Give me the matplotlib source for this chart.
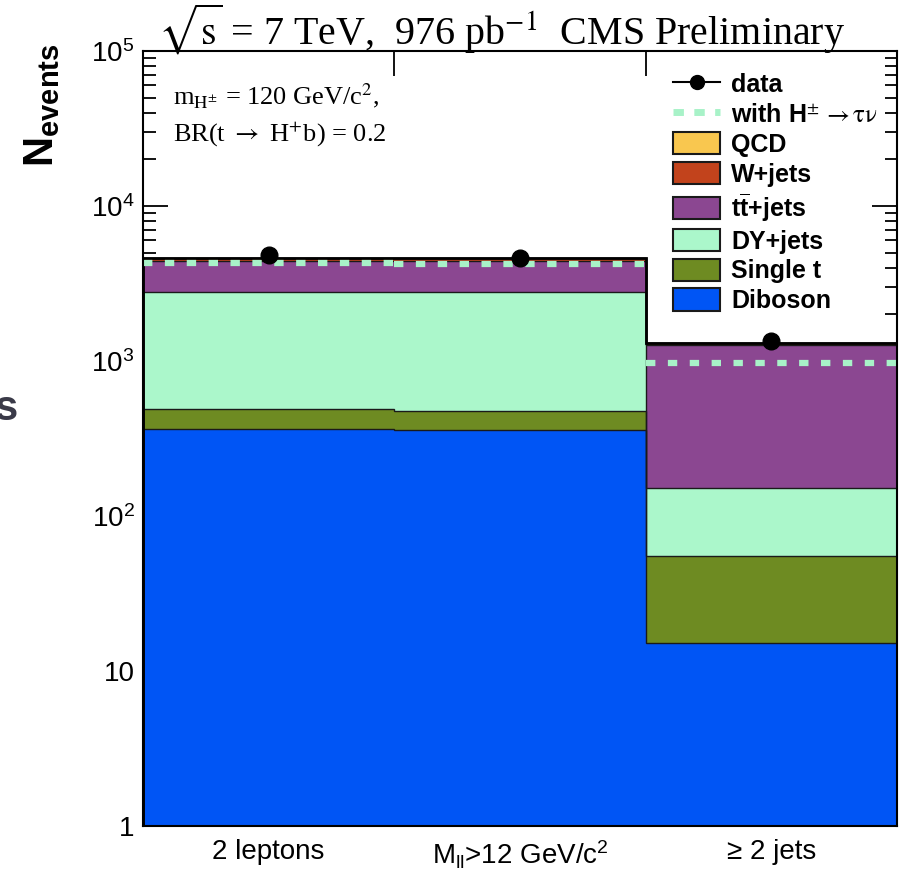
import numpy as np
import matplotlib
matplotlib.use("Agg")
import matplotlib.pyplot as plt
from matplotlib.patches import Patch
from matplotlib.lines import Line2D
from matplotlib.ticker import LogLocator, NullFormatter

plt.rcParams['font.family'] = ['Liberation Sans', 'DejaVu Sans']
plt.rcParams['mathtext.fontset'] = 'custom'
plt.rcParams['mathtext.rm'] = 'Liberation Sans'
plt.rcParams['mathtext.it'] = 'Liberation Sans:italic'
plt.rcParams['mathtext.bf'] = 'Liberation Sans:bold'

# ---- data ----
categories = ["2 leptons", r"M$_{\mathregular{ll}}$>12 GeV/c$^{\mathregular{2}}$", "\u2265 2 jets"]
diboson = [365, 358, 15.2]
single_t = [123, 120, 40.3]
dy_jets = [2312, 2302, 96.5]
ttbar_jets = [1640, 1620, 1118]
w_jets = [200, 200, 30]
qcd = [10, 10, 12]
data = [4800, 4650, 1350]
with_hplus = [4260, 4220, 966]

series = [
    ("Diboson", diboson, "#0055F5"),
    ("Single t", single_t, "#6E8B22"),
    ("DY+jets", dy_jets, "#ABF7CB"),
    (r"t$\overline{\mathbf{t}}$+jets", ttbar_jets, "#8B4791"),
    ("W+jets", w_jets, "#C2431C"),
    ("QCD", qcd, "#F9C74F"),
]

fig = plt.figure(figsize=(8.99, 8.71), dpi=100)
ax = fig.add_axes([0.159, 0.0517, 0.839, 0.8898])

x = np.arange(len(categories))
edges = np.arange(len(categories) + 1)
bottom = np.full(len(categories), 1e-3)
for name, vals, col in series:
    vals = np.array(vals, dtype=float)
    top = bottom + vals
    ax.stairs(top, edges, baseline=bottom, fill=True, color=col, zorder=2)
    ax.stairs(top, edges, color='#1a1a1a', linewidth=1.0, zorder=2.5)
    bottom = top
total = bottom

# total outline
ax.stairs(total, edges, color='black', linewidth=2.0, zorder=3)

# signal dashed line
for i in range(len(categories)):
    ax.plot([i, i + 1], [with_hplus[i], with_hplus[i]], color='#A8F2C8',
            linewidth=4.5, linestyle=(0, (1.5, 2.0)), zorder=4, solid_capstyle='butt')

# data points
ax.errorbar(x + 0.5, data, yerr=np.sqrt(data), fmt='o', color='black',
            markersize=12, elinewidth=1.2, capsize=0, zorder=5)

ax.set_yscale('log')
ax.set_ylim(1, 1e5)
ax.set_xlim(0, 3)

ax.set_yticks([1, 10, 100, 1000, 1e4, 1e5])
ax.set_yticklabels(["1", "10", r"10$^{\mathregular{2}}$", r"10$^{\mathregular{3}}$",
                    r"10$^{\mathregular{4}}$", r"10$^{\mathregular{5}}$"], fontsize=20)
ax.yaxis.set_minor_locator(LogLocator(base=10, subs=np.arange(2, 10)))
ax.yaxis.set_minor_formatter(NullFormatter())
ax.tick_params(axis='y', which='major', direction='in', length=18, width=1.3,
               left=True, right=True, pad=6)
ax.tick_params(axis='y', which='minor', direction='in', length=9, width=1.3,
               left=True, right=True)
ax.set_xticks([1, 2])
ax.set_xticklabels([])
ax.tick_params(axis='x', which='major', direction='in', length=18, width=1.3,
               top=True, bottom=True)
ax.tick_params(axis='x', which='minor', bottom=False, top=False)
for s in ax.spines.values():
    s.set_linewidth(1.5)
    s.set_zorder(6)

for i, lab in enumerate(categories):
    ax.text(i + 0.5, -0.017, lab, transform=ax.get_xaxis_transform(),
            ha='center', va='top', fontsize=20)

# y label
fig.text(0.047, 0.95, r"$\mathbf{N}_{\mathbf{events}}$", rotation=90, ha='center',
         va='top', fontsize=30)
# stray glyph at left edge
fig.text(-0.006, 0.53, "s", fontsize=30, fontweight='bold', color='#3a3a48',
         ha='left', va='center')

# title
fig.text(0.176, 0.949, r"$\sqrt{\mathrm{s}}$ = 7 TeV,  976 pb$^{\mathrm{-1}}$  CMS Preliminary",
         fontsize=28.8, family='Liberation Serif', math_fontfamily='stix',
         ha='left', va='baseline')

# annotation
ax.text(0.04, 0.943, r"m$_{\mathrm{H^{\pm}}}$ = 120 GeV/c$^{\mathrm{2}}$,",
        transform=ax.transAxes, fontsize=19, family='Liberation Serif',
        math_fontfamily='stix', ha='left', va='center')
ax.text(0.04, 0.894, r"BR(t $\rightarrow$ H$^{\mathrm{+}}$b) = 0.2",
        transform=ax.transAxes, fontsize=19, family='Liberation Serif',
        math_fontfamily='stix', ha='left', va='center')

# legend
handles = [Line2D([0], [0], color='black', marker='o', markersize=10, linewidth=1.5),
           Line2D([0], [0], color='#A8F2C8', linewidth=5, linestyle=(0, (1.5, 1.5)))]
labels = ["data", r"with H$^{\pm}\,\rightarrow\mathrm{\tau\nu}$"]
for name, vals, col in reversed(series):
    handles.append(Patch(facecolor=col, edgecolor='#1a1a1a', linewidth=1.5))
    labels.append(name)
leg = ax.legend(handles, labels, loc='upper left', bbox_to_anchor=(0.69, 0.985),
                frameon=False, fontsize=18, handlelength=1.85, handleheight=1.0,
                labelspacing=0.2, handletextpad=0.45, borderaxespad=0)
for t in leg.get_texts():
    t.set_fontweight('bold')
leg.get_texts()[1].set_math_fontfamily('stix')

fig.savefig("out.png", dpi=100)
